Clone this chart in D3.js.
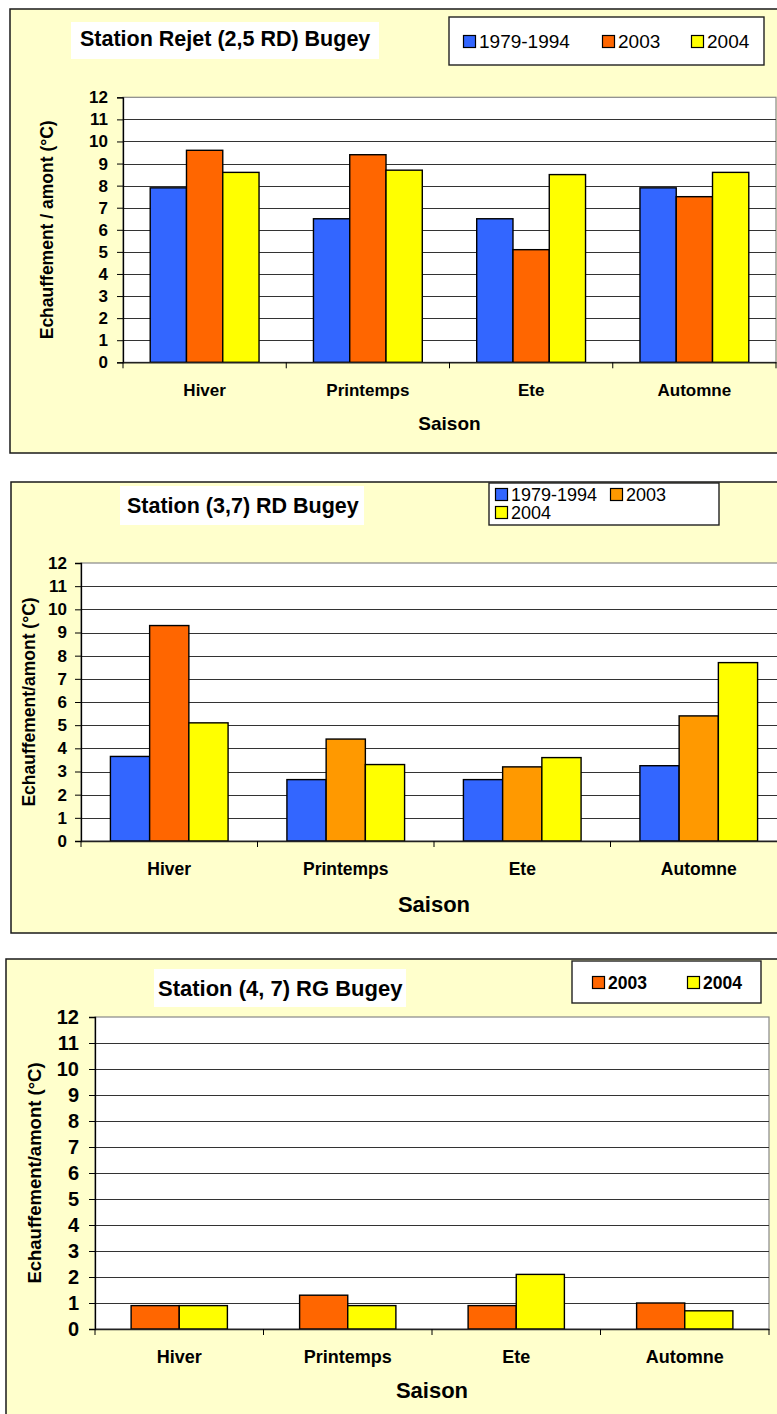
<!DOCTYPE html>
<html>
<head>
<meta charset="utf-8">
<script src="https://cdn.jsdelivr.net/npm/d3@7"></script>
<style>
  html, body { margin: 0; padding: 0; background: #ffffff; }
  svg { display: block; }
  text { font-family: "Liberation Sans", Arial, Helvetica, sans-serif; fill: #000; }
</style>
</head>
<body>
<svg id="chart" width="777" height="1414"></svg>
<script>
// ---------- DATA ----------
const seasons = ["Hiver", "Printemps", "Ete", "Automne"];
const yTickValues = [0, 1, 2, 3, 4, 5, 6, 7, 8, 9, 10, 11, 12];

// Chart 1 : Station Rejet (2,5 RD) Bugey
const rejetSeries = ["1979-1994", "2003", "2004"];
const rejet_1979_1994 = [7.9, 6.5, 6.5, 7.9];
const rejet_2003 = [9.6, 9.4, 5.1, 7.5];
const rejet_2004 = [8.6, 8.7, 8.5, 8.6];

// Chart 2 : Station (3,7) RD Bugey
const rd37Series = ["1979-1994", "2003", "2004"];
const rd37_1979_1994 = [3.65, 2.65, 2.65, 3.25];
const rd37_2003 = [9.3, 4.4, 3.2, 5.4];
const rd37_2004 = [5.1, 3.3, 3.6, 7.7];

// Chart 3 : Station (4, 7) RG Bugey
const rg47Series = ["2003", "2004"];
const rg47_2003 = [0.9, 1.3, 0.9, 1.0];
const rg47_2004 = [0.9, 0.9, 2.1, 0.7];

// ---------- STYLE ----------
const BLUE = "#3366FF", ORANGE = "#FF6600", LORANGE = "#FF9900", YELLOW = "#FFFF00";
const PANEL_BG = "#FFFFCC";

const charts = [
  {
    title: "Station Rejet (2,5 RD) Bugey",
    yTitle: "Echauffement / amont (°C)",
    seriesNames: rejetSeries,
    values: [rejet_1979_1994, rejet_2003, rejet_2004],
    colors: [BLUE, ORANGE, YELLOW],
    barColor: null,
    layout: {
      panel: {x: 10, y: 9, w: 800, h: 444},
      titleBox: {x: 71, y: 22, w: 308, h: 37}, titleText: {x: 80, y: 46, size: 21.5},
      legendBox: {x: 449, y: 17, w: 315, h: 48},
      legendItems: [{x: 463, y: 48}, {x: 602, y: 48}, {x: 691, y: 48}],
      legendFont: 19, legendBold: false,
      plot: {left: 123, right: 776, top: 97.3, bottom: 362.3},
      yFont: 17, yPad: 9,
      xFont: 17, xBase: 396,
      axisTitle: {size: 19, y: 430},
      yTitleLayout: {x: 53, size: 17.5}
    }
  },
  {
    title: "Station (3,7) RD Bugey",
    yTitle: "Echauffement/amont (°C)",
    seriesNames: rd37Series,
    values: [rd37_1979_1994, rd37_2003, rd37_2004],
    colors: [BLUE, LORANGE, YELLOW],
    barColor: (s, i) => (s === 1 && i === 0) ? ORANGE : null,
    layout: {
      panel: {x: 11, y: 482, w: 800, h: 451},
      titleBox: {x: 120, y: 486, w: 244, h: 39}, titleText: {x: 127, y: 513, size: 21.5},
      legendBox: {x: 489, y: 483, w: 230, h: 42},
      legendItems: [{x: 495, y: 501}, {x: 610, y: 501}, {x: 495, y: 519}],
      legendFont: 18, legendBold: false,
      plot: {left: 81, right: 787, top: 563, bottom: 841},
      yFont: 17, yPad: 8,
      xFont: 17.5, xBase: 875,
      axisTitle: {size: 22, y: 912},
      yTitleLayout: {x: 35, size: 17.5}
    }
  },
  {
    title: "Station (4, 7) RG Bugey",
    yTitle: "Echauffement/amont (°C)",
    seriesNames: rg47Series,
    values: [rg47_2003, rg47_2004],
    colors: [ORANGE, YELLOW],
    barColor: null,
    layout: {
      panel: {x: 6, y: 959, w: 810, h: 480},
      titleBox: {x: 154, y: 969, w: 252, h: 38}, titleText: {x: 158, y: 996, size: 22},
      legendBox: {x: 572, y: 961, w: 189, h: 42},
      legendItems: [{x: 592, y: 989}, {x: 687, y: 989}],
      legendFont: 17.5, legendBold: true,
      plot: {left: 95, right: 769, top: 1017, bottom: 1329},
      yFont: 20, yPad: 10,
      xFont: 18, xBase: 1363,
      axisTitle: {size: 22, y: 1398},
      yTitleLayout: {x: 41, size: 18.5}
    }
  }
];

const svg = d3.select("#chart");

function drawChart(cfg) {
  const L = cfg.layout;
  const g = svg.append("g");

  // panel
  g.append("rect")
    .attr("x", L.panel.x).attr("y", L.panel.y)
    .attr("width", L.panel.w).attr("height", L.panel.h)
    .attr("fill", PANEL_BG).attr("stroke", "#1a1a1a").attr("stroke-width", 1.5);

  // scales
  const x0 = d3.scaleBand().domain(seasons).range([L.plot.left, L.plot.right]).paddingInner(0).paddingOuter(0);
  const x1 = d3.scaleBand().domain(d3.range(cfg.seriesNames.length))
    .range([0, x0.bandwidth()]).paddingInner(0).paddingOuter(0.75);
  const y = d3.scaleLinear().domain([0, 12]).range([L.plot.bottom, L.plot.top]);

  // plot area
  g.append("rect")
    .attr("x", L.plot.left).attr("y", L.plot.top)
    .attr("width", L.plot.right - L.plot.left).attr("height", L.plot.bottom - L.plot.top)
    .attr("fill", "#ffffff").attr("stroke", "#888").attr("stroke-width", 1.2);

  // gridlines
  g.append("g").selectAll("line").data(yTickValues.filter(v => v > 0 && v < 12)).join("line")
    .attr("x1", L.plot.left).attr("x2", L.plot.right)
    .attr("y1", d => Math.round(y(d)) + 0.5).attr("y2", d => Math.round(y(d)) + 0.5)
    .attr("stroke", "#333").attr("stroke-width", 1);

  // bars
  cfg.values.forEach((vals, s) => {
    g.append("g").selectAll("rect").data(vals).join("rect")
      .attr("x", (d, i) => x0(seasons[i]) + x1(s))
      .attr("y", d => y(d))
      .attr("width", x1.bandwidth())
      .attr("height", d => y(0) - y(d))
      .attr("fill", (d, i) => (cfg.barColor && cfg.barColor(s, i)) || cfg.colors[s])
      .attr("stroke", "#000").attr("stroke-width", 1.4);
  });

  // y axis
  const yAxis = d3.axisLeft(y).tickValues(yTickValues).tickFormat(d3.format("d"))
    .tickSize(6).tickPadding(L.yPad);
  const ya = g.append("g").attr("transform", `translate(${L.plot.left},0)`).call(yAxis);
  ya.select(".domain").attr("stroke", "#000").attr("stroke-width", 1.3);
  ya.selectAll(".tick line").attr("stroke", "#000");
  ya.selectAll("text").style("font-family", '"Liberation Sans", Arial, sans-serif')
    .style("font-size", L.yFont + "px").style("font-weight", "bold").attr("fill", "#000");

  // x axis (labels)
  const xAxis = d3.axisBottom(x0).tickSize(0).tickPadding(0);
  const xa = g.append("g").attr("transform", `translate(0,${L.plot.bottom})`).call(xAxis);
  xa.select(".domain").attr("stroke", "#222").attr("stroke-width", 1.5);
  xa.selectAll("text").attr("y", L.xBase - L.plot.bottom).attr("dy", 0)
    .style("font-family", '"Liberation Sans", Arial, sans-serif')
    .style("font-size", L.xFont + "px").style("font-weight", "bold").attr("fill", "#000");

  // category boundary ticks
  const edges = seasons.map(c => x0(c)).concat([x0(seasons[seasons.length - 1]) + x0.bandwidth()]);
  g.append("g").selectAll("line").data(edges).join("line")
    .attr("x1", d => d).attr("x2", d => d)
    .attr("y1", L.plot.bottom).attr("y2", L.plot.bottom + 6)
    .attr("stroke", "#000").attr("stroke-width", 1);

  // axis titles
  g.append("text")
    .attr("x", (L.plot.left + L.plot.right) / 2).attr("y", L.axisTitle.y)
    .attr("text-anchor", "middle")
    .style("font-size", L.axisTitle.size + "px").style("font-weight", "bold")
    .text("Saison");

  const yMid = (L.plot.top + L.plot.bottom) / 2;
  g.append("text")
    .attr("transform", `translate(${L.yTitleLayout.x},${yMid}) rotate(-90)`)
    .attr("text-anchor", "middle")
    .style("font-size", L.yTitleLayout.size + "px").style("font-weight", "bold")
    .text(cfg.yTitle);

  // title box
  g.append("rect")
    .attr("x", L.titleBox.x).attr("y", L.titleBox.y)
    .attr("width", L.titleBox.w).attr("height", L.titleBox.h)
    .attr("fill", "#ffffff");
  g.append("text")
    .attr("x", L.titleText.x).attr("y", L.titleText.y)
    .style("font-size", L.titleText.size + "px").style("font-weight", "bold")
    .text(cfg.title);

  // legend
  g.append("rect")
    .attr("x", L.legendBox.x).attr("y", L.legendBox.y)
    .attr("width", L.legendBox.w).attr("height", L.legendBox.h)
    .attr("fill", "#ffffff").attr("stroke", "#222").attr("stroke-width", 1.4);
  const items = g.append("g").selectAll("g").data(cfg.seriesNames).join("g")
    .attr("transform", (d, i) => `translate(${L.legendItems[i].x},${L.legendItems[i].y})`);
  items.append("rect")
    .attr("x", 0.5).attr("y", -12.5).attr("width", 12).attr("height", 12)
    .attr("fill", (d, i) => cfg.colors[i]).attr("stroke", "#000").attr("stroke-width", 1.2);
  items.append("text")
    .attr("x", 16).attr("y", 0)
    .style("font-size", L.legendFont + "px")
    .style("font-weight", L.legendBold ? "bold" : "normal")
    .text(d => d);
}

charts.forEach(drawChart);
</script>
</body>
</html>
